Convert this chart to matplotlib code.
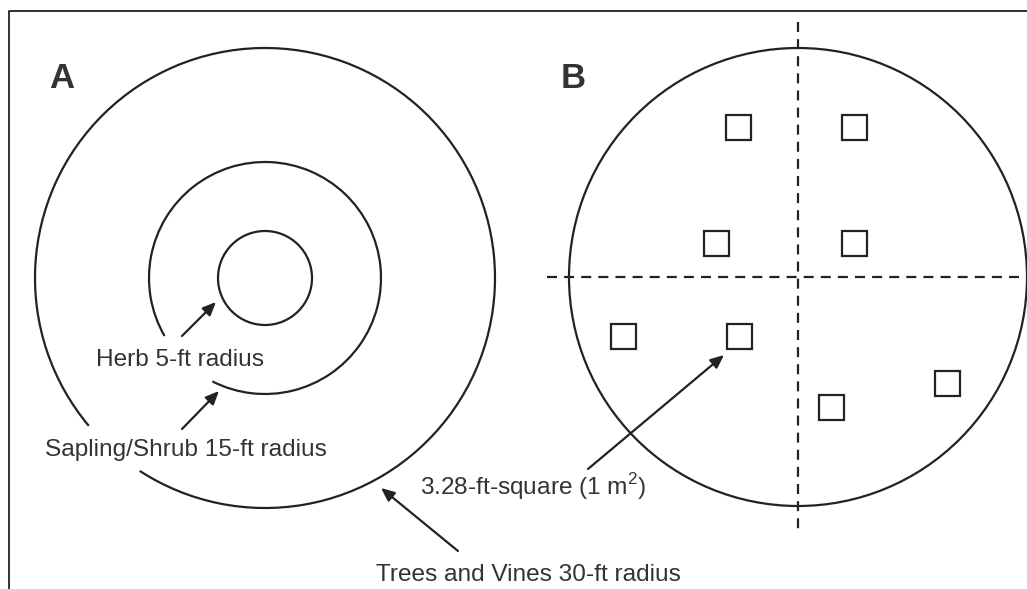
import matplotlib.pyplot as plt
from matplotlib.patches import Arc, Circle, Rectangle
import numpy as np

# panel A: nested plot circles (centre, radii) and label gaps (deg)
a_center = (265, 278)
a_radii = [47, 116, 230]
a_gaps = [None, (210, 243), (220, 237)]

# panel B: single circle with quadrant lines and 1 m2 squares
b_center = (798, 277)
b_radius = 229
square_x = [738, 854, 716, 854, 623, 739, 831, 947]
square_y = [127, 127, 243, 243, 336, 336, 407, 383]
square_size = 25

labels = ["Herb 5-ft radius", "Sapling/Shrub 15-ft radius",
          "3.28-ft-square (1 m$^2$)", "Trees and Vines 30-ft radius"]
label_xy = [(180, 360), (186, 450), (533, 487), (528, 575)]
arrow_from = [(182, 336), (182, 429), (588, 469), (458, 551)]
arrow_to = [(216, 302), (219, 391), (724, 355), (381, 488)]

plt.rcParams['font.family'] = ['Liberation Sans', 'DejaVu Sans']
plt.rcParams['mathtext.fontset'] = 'custom'
plt.rcParams['mathtext.rm'] = 'Liberation Sans'
ink = '#222222'
txt = '#333333'

fig = plt.figure(figsize=(10.27, 5.89), dpi=100)
ax = fig.add_axes([0, 0, 1, 1])
ax.set_xlim(0, 1027)
ax.set_ylim(589, 0)
ax.axis('off')

# frame (cropped: only left and top edges show)
ax.plot([9, 9, 1027], [589, 11, 11], color=ink, lw=1.3)

for r, gap in zip(a_radii, a_gaps):
    if gap is None:
        ax.add_patch(Circle(a_center, r, fill=False, ec=ink, lw=1.6))
    else:
        # y axis is inverted, so angles run clockwise; convert math angles
        t1, t2 = 360 - gap[0], 360 - gap[1]
        ax.add_patch(Arc(a_center, 2 * r, 2 * r, theta1=t1, theta2=t2 + 360,
                         ec=ink, lw=1.6))

ax.add_patch(Circle(b_center, b_radius, fill=False, ec=ink, lw=1.6))
ax.plot([b_center[0], b_center[0]], [22, 533], color=ink, lw=1.6,
        dashes=(4.5, 3.2))
ax.plot([547, 1027], [b_center[1], b_center[1]], color=ink, lw=1.6,
        dashes=(4.5, 3.2))
for x, y in zip(square_x, square_y):
    ax.add_patch(Rectangle((x - square_size / 2, y - square_size / 2),
                           square_size, square_size, fill=False, ec=ink, lw=1.6))

for s, (x, y), p0, p1 in zip(labels, label_xy, arrow_from, arrow_to):
    ax.text(x, y, s, ha='center', va='center', fontsize=17.6, color=txt)
    ax.annotate('', xy=p1, xytext=p0,
                arrowprops=dict(arrowstyle='-|>,head_length=0.8,head_width=0.35',
                                color=ink, lw=1.6, shrinkA=0, shrinkB=0))

ax.text(62, 78, 'A', ha='center', va='center', fontsize=25, fontweight='bold', color=txt)
ax.text(573, 78, 'B', ha='center', va='center', fontsize=25, fontweight='bold', color=txt)

fig.savefig('out.png', dpi=100)
